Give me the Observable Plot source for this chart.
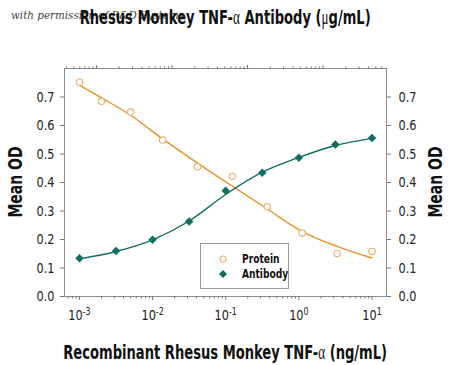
<!DOCTYPE html>
<html><head><meta charset="utf-8">
<script src="https://cdn.jsdelivr.net/npm/d3@7"></script>
<script src="https://cdn.jsdelivr.net/npm/@observablehq/plot@0.6"></script>
<style>
body{margin:0;background:#fff;}
#wrap{position:relative;width:450px;height:365px;overflow:hidden;font-family:"DejaVu Sans",sans-serif;}
.title{position:absolute;left:-150px;width:750px;text-align:center;font-weight:bold;font-size:20px;line-height:22px;color:#111;white-space:nowrap;}
.title .sx{display:inline-block;transform:scaleX(0.655);transform-origin:center;}
.greek{font-family:"Liberation Serif","DejaVu Serif",serif;font-weight:normal;}
.ylab{position:absolute;width:120px;height:22px;line-height:22px;text-align:center;font-weight:bold;font-size:20px;color:#111;transform:rotate(-90deg) scaleX(0.7);white-space:nowrap;}
.wm{position:absolute;left:11px;top:8px;font-family:"DejaVu Serif",serif;font-style:italic;font-size:11.5px;color:#444;white-space:nowrap;transform:scaleX(0.9);transform-origin:left center;}
#legend{position:absolute;left:200px;top:243px;width:89px;height:46px;box-sizing:border-box;border:1.5px solid #9a9a9a;background:#fff;}
.lrow{position:absolute;left:0;height:16px;line-height:16px;font-size:13px;font-weight:bold;color:#111;}
.lrow svg{position:absolute;left:15px;top:2px;}
.lrow span{position:absolute;left:41px;white-space:nowrap;transform:scaleX(0.7);transform-origin:left center;}
#plot{position:absolute;left:0;top:0;}
</style></head>
<body>
<div id="wrap">
  <div id="plot"></div>
  <div class="wm">with permission of R&amp;D Systems</div>
  <div class="title" style="top:6px;"><span class="sx">Rhesus Monkey TNF-<span class="greek">α</span> Antibody (<span class="greek">μ</span>g/mL)</span></div>
  <div class="title" style="top:341px;"><span class="sx">Recombinant Rhesus Monkey TNF-<span class="greek">α</span> (ng/mL)</span></div>
  <div class="ylab" style="left:-45px;top:171px;">Mean OD</div>
  <div class="ylab" style="left:375px;top:171px;">Mean OD</div>
  <div id="legend">
    <div class="lrow" style="top:7px;"><svg width="14" height="12"><circle cx="7" cy="6" r="3" fill="none" stroke="#F0AE6A" stroke-width="1.1"/></svg><span>Protein</span></div>
    <div class="lrow" style="top:22px;"><svg width="14" height="12"><path d="M7,2 L11,6 L7,10 L3,6Z" fill="#0F6E61"/></svg><span>Antibody</span></div>
  </div>
</div>
<script>
// Recombinant Rhesus Monkey TNF-α (ng/mL) – protein series
const proteinConc = [0.001, 0.002, 0.005, 0.0137, 0.0412, 0.123, 0.37, 1.11, 3.33, 10];
const proteinOD   = [0.752, 0.685, 0.647, 0.549, 0.455, 0.422, 0.315, 0.223, 0.151, 0.158];
const proteinFit  = [0.741, 0.697, 0.636, 0.553, 0.468, 0.387, 0.307, 0.228, 0.176, 0.135];
// Antibody series (positions on the bottom scale)
const antibodyConc = [0.001, 0.00316, 0.01, 0.0316, 0.1, 0.316, 1, 3.16, 10];
const antibodyOD   = [0.134, 0.160, 0.199, 0.263, 0.371, 0.434, 0.487, 0.533, 0.556];
const antibodyFit  = [0.132, 0.158, 0.199, 0.265, 0.358, 0.436, 0.488, 0.530, 0.555];
// Axis ticks
const bottomTicks = [0.001, 0.01, 0.1, 1, 10];
const bottomTickLabels = ["10^-3", "10^-2", "10^-1", "10^0", "10^1"];
const topTicks = [0.01, 0.1, 1, 10];          // μg/mL
const topTickLabels = ["10^-2", "10^-1", "10^0", "10^1"];
const yTicks = [0, 0.1, 0.2, 0.3, 0.4, 0.5, 0.6, 0.7];
// top axis (μg/mL) → bottom axis (ng/mL) alignment, in log10 units
const topSlope = 1.033, topOffset = -0.702;
const xDomain = [0.000624, 15.8];

const ORANGE = "#E8922A", ORANGE_PT = "#F0AE6A", TEAL = "#0F6E61";

const toBottom = v => Math.pow(10, topSlope * Math.log10(v) + topOffset);
const inDom = u => u >= xDomain[0] && u <= xDomain[1];

const bottomMinor = [];
for (let k = -4; k <= 1; k++) for (let m = 2; m <= 9; m++) { const u = m * Math.pow(10, k); if (inDom(u)) bottomMinor.push(u); }
const topMinor = [];
for (let k = -3; k <= 2; k++) for (let m = 2; m <= 9; m++) { const u = toBottom(m * Math.pow(10, k)); if (inDom(u)) topMinor.push(u); }
const topMajor = topTicks.map(toBottom);
const bLab = new Map(bottomTicks.map((t, i) => [t, bottomTickLabels[i]]));
const tLab = new Map(topMajor.map((t, i) => [t, topTickLabels[i]]));

const protein = proteinConc.map((c, i) => ({c, od: proteinOD[i], fit: proteinFit[i]}));
const antibody = antibodyConc.map((c, i) => ({c, od: antibodyOD[i], fit: antibodyFit[i]}));

const chart = Plot.plot({
  width: 450, height: 365,
  marginLeft: 64, marginRight: 64, marginTop: 68, marginBottom: 69,
  style: {fontFamily: '"DejaVu Sans",sans-serif', fontSize: "14.5px", color: "#222", background: "transparent"},
  x: {type: "log", domain: xDomain, axis: null},
  y: {domain: [0, 0.8], axis: null},
  marks: [
    Plot.frame({stroke: "#8c8c8c"}),
    Plot.axisX(bottomMinor, {anchor: "bottom", tickSize: 2.5, tickFormat: () => "", label: null, stroke: "#777"}),
    Plot.axisX(bottomTicks, {anchor: "bottom", tickSize: 4, tickPadding: 9, tickFormat: d => bLab.get(d), label: null, stroke: "#777", fill: "#222"}),
    Plot.axisX(topMinor, {anchor: "top", tickSize: 2.5, tickFormat: () => "", label: null, stroke: "#777"}),
    Plot.axisX(topMajor, {anchor: "top", tickSize: 4, tickPadding: 4, tickFormat: d => tLab.get(d), label: null, stroke: "#777", fill: "#222"}),
    Plot.axisY(yTicks, {anchor: "left", tickSize: 4, tickPadding: 6, tickFormat: d3.format(".1f"), label: null, stroke: "#777", fill: "#222"}),
    Plot.axisY(yTicks, {anchor: "right", tickSize: 4, tickPadding: 8, tickFormat: d3.format(".1f"), label: null, stroke: "#777", fill: "#222"}),
    Plot.line(protein, {x: "c", y: "fit", stroke: ORANGE, strokeWidth: 1.4, curve: "monotone-x"}),
    Plot.line(antibody, {x: "c", y: "fit", stroke: TEAL, strokeWidth: 1.4, curve: "monotone-x"}),
    Plot.dot(protein, {x: "c", y: "od", r: 3.2, stroke: ORANGE_PT, strokeWidth: 1.1, fill: "white"}),
    Plot.dot(antibody, {x: "c", y: "od", r: 3.6, symbol: "diamond2", fill: TEAL, stroke: TEAL, strokeWidth: 0.5})
  ]
});
document.getElementById("plot").appendChild(chart);

// superscript exponents
chart.querySelectorAll("text").forEach(t => {
  const m = t.textContent.match(/^10\^(.+)$/);
  if (!m) return;
  const target = t.querySelector("tspan") || t;
  target.textContent = "10";
  const sup = document.createElementNS("http://www.w3.org/2000/svg", "tspan");
  sup.setAttribute("dy", "-0.45em");
  sup.setAttribute("font-size", "0.7em");
  sup.textContent = m[1];
  target.appendChild(sup);
});
// condense tick labels horizontally around their anchor
const SX = 0.78;
Array.from(chart.querySelectorAll("text")).forEach(t => {
  if (!t.textContent) return;
  const g = document.createElementNS("http://www.w3.org/2000/svg", "g");
  t.parentNode.insertBefore(g, t);
  g.appendChild(t);
  const bb = g.getBBox();
  const anchor = getComputedStyle(t).textAnchor;
  const ax = anchor === "end" ? bb.x + bb.width : anchor === "middle" ? bb.x + bb.width / 2 : bb.x;
  g.setAttribute("transform", `translate(${ax},0) scale(${SX},1) translate(${-ax},0)`);
});
</script>
</body></html>
